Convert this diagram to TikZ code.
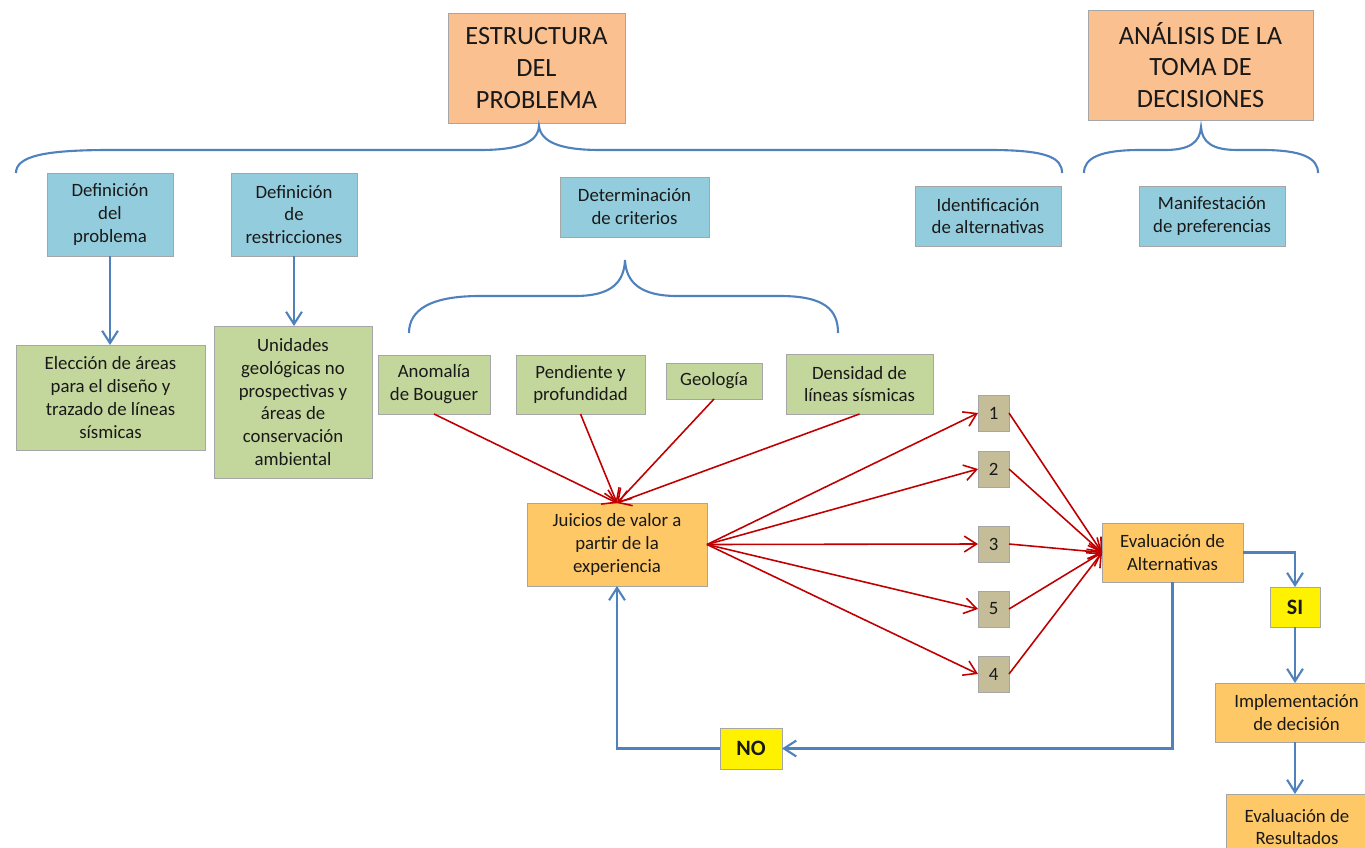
\documentclass[tikz,border=0pt]{standalone}
\usepackage{fontspec}
\setmainfont{Carlito}
\usetikzlibrary{arrows.meta}
\definecolor{bluefill}{HTML}{93CDDD}
\definecolor{greenfill}{HTML}{C3D69B}
\definecolor{orangefill}{HTML}{FAC090}
\definecolor{goldfill}{HTML}{FFC866}
\definecolor{tanfill}{HTML}{C4BD97}
\definecolor{bordergray}{HTML}{A6A6A6}
\definecolor{bluelink}{HTML}{4F81BD}
\definecolor{redlink}{HTML}{C00000}
\tikzset{
  box/.style={draw=bordergray, line width=0.5pt, inner sep=0pt, outer sep=0pt, align=center,
    font=\fontsize{10.7}{13}\selectfont, text=black!90},
  titlebox/.style={box, fill=orangefill, font=\fontsize{15}{18}\selectfont},
  bluebox/.style={box, fill=bluefill},
  greenbox/.style={box, fill=greenfill},
  goldbox/.style={box, fill=goldfill},
  numbox/.style={box, fill=tanfill},
  yesno/.style={box, fill=yellow, font=\fontsize{12.5}{15}\selectfont\bfseries},
  bluearrow/.style={draw=bluelink, line width=1.2pt, -{Straight Barb[length=7pt,width=9pt]}},
  redarrow/.style={draw=redlink, line width=0.9pt, -{Straight Barb[length=7pt,width=9pt]}},
  brace/.style={draw=bluelink, line width=1.2pt}
}
\begin{document}
\begin{tikzpicture}[x=0.02cm, y=-0.02cm]
\useasboundingbox (0,0) rectangle (1365,848);
% title boxes
\node[titlebox, minimum width=3.54cm, minimum height=2.2cm] (est) at (536.5,68) {ESTRUCTURA\\DEL\\PROBLEMA};
\node[titlebox, minimum width=4.5cm, minimum height=2.2cm] (ana) at (1200.5,65) {ANÁLISIS DE LA\\TOMA DE\\DECISIONES};
% braces
\draw[brace] (16,173) .. controls (16,156) and (45,150) .. (110,150) -- (480,150)
  .. controls (520,150) and (538,142) .. (539,126)
  .. controls (541,142) and (560,150) .. (600,150) -- (990,150)
  .. controls (1048,150) and (1062,158) .. (1062,173);
\draw[brace] (1084,173) .. controls (1084,158) and (1100,150) .. (1140,150) -- (1165,150)
  .. controls (1190,150) and (1200,142) .. (1201,127)
  .. controls (1202,142) and (1212,150) .. (1237,150) -- (1262,150)
  .. controls (1302,150) and (1318,158) .. (1318,173);
\draw[brace] (409,333) .. controls (409,310) and (430,296) .. (480,296) -- (575,296)
  .. controls (612,296) and (624,282) .. (625,260)
  .. controls (626,282) and (640,296) .. (677,296) -- (780,296)
  .. controls (825,296) and (838,310) .. (838,333);
% blue boxes
\node[bluebox, minimum width=2.52cm, minimum height=1.66cm] (dprob) at (110,214.5) {Definición\\del\\problema};
\node[bluebox, minimum width=2.52cm, minimum height=1.66cm] (drest) at (294,214.5) {Definición\\de\\restricciones};
\node[bluebox, minimum width=2.98cm, minimum height=1.2cm] (dcrit) at (634.5,207) {Determinación\\de criterios};
\node[bluebox, minimum width=2.92cm, minimum height=1.2cm] (ialt) at (988,216) {Identificación\\de alternativas};
\node[bluebox, minimum width=2.92cm, minimum height=1.2cm] (mpref) at (1212,216) {Manifestación\\de preferencias};
% green boxes
\node[greenbox, minimum width=3.78cm, minimum height=2.1cm] (elec) at (110.5,397.5) {Elección de áreas\\para el diseño y\\trazado de líneas\\sísmicas};
\node[greenbox, minimum width=3.16cm, minimum height=3.04cm] (unid) at (293,402) {Unidades\\geológicas no\\prospectivas y\\áreas de\\conservación\\ambiental};
\node[greenbox, minimum width=2.24cm, minimum height=1.18cm] (anom) at (434,384.5) {Anomalía\\de Bouguer};
\node[greenbox, minimum width=2.58cm, minimum height=1.18cm] (pend) at (580.5,384.5) {Pendiente y\\profundidad};
\node[greenbox, minimum width=1.92cm, minimum height=0.72cm] (geo) at (714,381) {Geología};
\node[greenbox, minimum width=2.94cm, minimum height=1.2cm] (dens) at (859.5,384) {Densidad de\\líneas sísmicas};
% central boxes
\node[goldbox, minimum width=3.6cm, minimum height=1.66cm] (juic) at (617,544.5) {Juicios de valor a\\partir de la\\experiencia};
\node[numbox, minimum width=0.62cm, minimum height=0.72cm] (n1) at (993.5,413) {1};
\node[numbox, minimum width=0.62cm, minimum height=0.72cm] (n2) at (993.5,469) {2};
\node[numbox, minimum width=0.62cm, minimum height=0.72cm] (n3) at (993.5,544) {3};
\node[numbox, minimum width=0.62cm, minimum height=0.72cm] (n5) at (993.5,609) {5};
\node[numbox, minimum width=0.62cm, minimum height=0.72cm] (n4) at (993.5,674) {4};
\node[goldbox, minimum width=2.82cm, minimum height=1.18cm] (evalt) at (1172.5,552.5) {Evaluación de\\Alternativas};
\node[yesno, minimum width=1.0cm, minimum height=0.8cm] (si) at (1295,607) {SI};
\node[goldbox, minimum width=3.26cm, minimum height=1.18cm] (impl) at (1296.5,712.5) {Implementación\\de decisión};
\node[goldbox, minimum width=2.84cm, minimum height=1.32cm] (evres) at (1297,827) {Evaluación de\\Resultados};
\node[yesno, minimum width=1.24cm, minimum height=0.82cm] (no) at (751,748.5) {NO};
% blue arrows
\draw[bluearrow] (dprob.south) -- (dprob.south |- elec.north);
\draw[bluearrow] (drest.south) -- (drest.south |- unid.north);
\draw[bluearrow] (evalt.east) -| (si.north);
\draw[bluearrow] (si.south) -- (impl.north -| si.south);
\draw[bluearrow] (impl.south -| si.south) -- (evres.north -| si.south);
\draw[bluearrow] (evalt.south) |- (no.east);
\draw[bluearrow] (no.west) -| (juic.south);
% red arrows
\draw[redarrow] (anom.south) -- (juic.north);
\draw[redarrow] (pend.south) -- (juic.north);
\draw[redarrow] (geo.south) -- (juic.north);
\draw[redarrow] (dens.south) -- (juic.north);
\foreach \n in {n1,n2,n3,n5,n4} {
  \draw[redarrow] (juic.east) -- (\n.west);
  \draw[redarrow] (\n.east) -- (evalt.west);
}
\end{tikzpicture}
\end{document}
